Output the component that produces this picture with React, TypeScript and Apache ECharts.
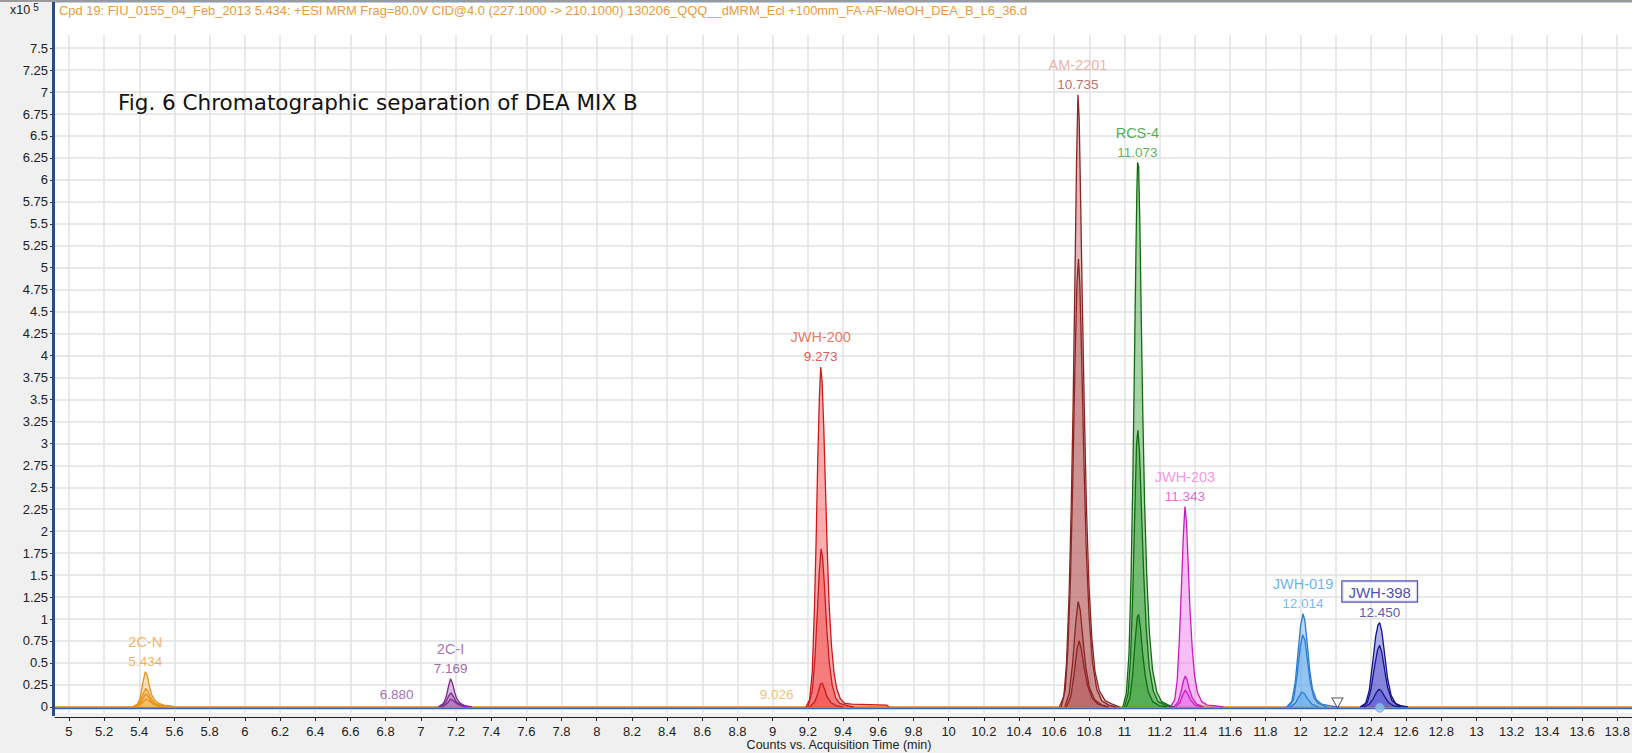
import React, { useEffect, useRef } from 'react';
import * as echarts from 'echarts';

const xTicks = [5, 5.2, 5.4, 5.6, 5.8, 6, 6.2, 6.4, 6.6, 6.8, 7, 7.2, 7.4, 7.6, 7.8, 8, 8.2, 8.4, 8.6, 8.8, 9, 9.2, 9.4, 9.6, 9.8, 10, 10.2, 10.4, 10.6, 10.8, 11, 11.2, 11.4, 11.6, 11.8, 12, 12.2, 12.4, 12.6, 12.8, 13, 13.2, 13.4, 13.6, 13.8];
const yTicks = [0, 0.25, 0.5, 0.75, 1, 1.25, 1.5, 1.75, 2, 2.25, 2.5, 2.75, 3, 3.25, 3.5, 3.75, 4, 4.25, 4.5, 4.75, 5, 5.25, 5.5, 5.75, 6, 6.25, 6.5, 6.75, 7, 7.25, 7.5];

const peakNames = ['2C-N', '2C-I', 'JWH-200', 'AM-2201', 'RCS-4', 'JWH-203', 'JWH-019', 'JWH-398'];
const peakRT = [5.434, 7.169, 9.273, 10.735, 11.073, 11.343, 12.014, 12.45];
const peakHeights = [0.40, 0.32, 3.87, 6.97, 6.20, 2.28, 1.06, 0.96];

const trace2CN = [
  [[5.36, 0], [5.39, 0.03], [5.405, 0.1], [5.42, 0.27], [5.434, 0.4], [5.445, 0.36], [5.455, 0.26], [5.47, 0.14], [5.49, 0.07], [5.51, 0.04], [5.54, 0.02], [5.58, 0.01], [5.6, 0]],
  [[5.37, 0], [5.4, 0.04], [5.42, 0.14], [5.436, 0.21], [5.45, 0.17], [5.47, 0.09], [5.49, 0.04], [5.53, 0.01], [5.57, 0]],
  [[5.38, 0], [5.41, 0.05], [5.425, 0.11], [5.437, 0.15], [5.45, 0.12], [5.47, 0.06], [5.5, 0.02], [5.55, 0]],
  [[5.39, 0], [5.415, 0.04], [5.438, 0.09], [5.455, 0.07], [5.48, 0.03], [5.52, 0]],
];
const trace2CI = [
  [[7.1, 0], [7.13, 0.04], [7.145, 0.12], [7.158, 0.24], [7.169, 0.32], [7.18, 0.27], [7.192, 0.17], [7.205, 0.09], [7.225, 0.04], [7.25, 0.015], [7.29, 0]],
  [[7.11, 0], [7.14, 0.05], [7.16, 0.13], [7.172, 0.16], [7.185, 0.12], [7.2, 0.06], [7.23, 0.02], [7.27, 0]],
  [[7.12, 0], [7.15, 0.04], [7.17, 0.09], [7.185, 0.07], [7.21, 0.03], [7.25, 0]],
];
const traceJWH200 = [
  [[9.19, 0], [9.21, 0.08], [9.225, 0.4], [9.237, 1.1], [9.247, 1.9], [9.256, 2.8], [9.265, 3.5], [9.273, 3.87], [9.281, 3.7], [9.29, 3.2], [9.3, 2.5], [9.31, 1.8], [9.321, 1.15], [9.334, 0.7], [9.349, 0.38], [9.365, 0.2], [9.385, 0.09], [9.41, 0.04], [9.45, 0.03], [9.55, 0.025], [9.65, 0.02], [9.66, 0]],
  [[9.2, 0], [9.225, 0.18], [9.24, 0.55], [9.253, 1.05], [9.265, 1.55], [9.275, 1.8], [9.284, 1.7], [9.295, 1.35], [9.307, 0.9], [9.322, 0.5], [9.338, 0.25], [9.358, 0.1], [9.38, 0.04], [9.43, 0.01], [9.46, 0]],
  [[9.21, 0], [9.24, 0.06], [9.258, 0.16], [9.272, 0.26], [9.282, 0.27], [9.295, 0.2], [9.31, 0.11], [9.33, 0.05], [9.36, 0.015], [9.4, 0]],
];
const traceAM2201 = [
  [[10.63, 0], [10.655, 0.12], [10.67, 0.5], [10.685, 1.3], [10.697, 2.3], [10.708, 3.5], [10.718, 4.9], [10.727, 6.2], [10.735, 6.97], [10.742, 6.7], [10.75, 5.8], [10.76, 4.6], [10.771, 3.4], [10.783, 2.3], [10.797, 1.4], [10.814, 0.78], [10.832, 0.4], [10.857, 0.18], [10.89, 0.07], [10.93, 0.03], [10.97, 0]],
  [[10.64, 0], [10.663, 0.2], [10.678, 0.65], [10.693, 1.5], [10.706, 2.6], [10.718, 3.9], [10.729, 4.8], [10.738, 5.1], [10.746, 4.8], [10.757, 3.9], [10.769, 2.8], [10.782, 1.8], [10.798, 1.05], [10.818, 0.5], [10.842, 0.2], [10.87, 0.07], [10.91, 0.02], [10.95, 0]],
  [[10.66, 0], [10.685, 0.15], [10.705, 0.5], [10.722, 0.95], [10.736, 1.2], [10.748, 1.1], [10.762, 0.8], [10.78, 0.45], [10.8, 0.22], [10.83, 0.08], [10.87, 0.02], [10.91, 0]],
  [[10.67, 0], [10.695, 0.12], [10.715, 0.4], [10.73, 0.66], [10.742, 0.75], [10.755, 0.65], [10.77, 0.45], [10.79, 0.24], [10.815, 0.1], [10.85, 0.03], [10.9, 0]],
];
const traceRCS4 = [
  [[10.99, 0], [11.01, 0.15], [11.025, 0.6], [11.037, 1.5], [11.047, 2.6], [11.056, 3.9], [11.064, 5.1], [11.07, 5.9], [11.074, 6.2], [11.08, 6.15], [11.087, 5.5], [11.095, 4.4], [11.104, 3.3], [11.114, 2.3], [11.126, 1.5], [11.141, 0.85], [11.159, 0.42], [11.183, 0.17], [11.21, 0.06], [11.25, 0.02], [11.28, 0]],
  [[11.0, 0], [11.02, 0.15], [11.034, 0.55], [11.046, 1.25], [11.058, 2.2], [11.068, 3.0], [11.076, 3.15], [11.085, 2.9], [11.096, 2.25], [11.109, 1.5], [11.123, 0.9], [11.14, 0.45], [11.163, 0.18], [11.19, 0.06], [11.23, 0.02], [11.26, 0]],
  [[11.01, 0], [11.03, 0.1], [11.045, 0.35], [11.06, 0.75], [11.072, 1.02], [11.08, 1.05], [11.09, 0.9], [11.102, 0.62], [11.118, 0.35], [11.135, 0.17], [11.16, 0.06], [11.2, 0.01], [11.24, 0]],
];
const traceJWH203 = [
  [[11.26, 0], [11.285, 0.08], [11.299, 0.3], [11.311, 0.75], [11.323, 1.35], [11.334, 1.95], [11.343, 2.28], [11.352, 2.1], [11.362, 1.6], [11.372, 1.1], [11.385, 0.65], [11.398, 0.35], [11.415, 0.16], [11.438, 0.06], [11.47, 0.02], [11.52, 0.01], [11.56, 0]],
  [[11.28, 0], [11.305, 0.06], [11.322, 0.18], [11.335, 0.3], [11.345, 0.35], [11.355, 0.31], [11.368, 0.2], [11.385, 0.1], [11.41, 0.03], [11.45, 0]],
  [[11.29, 0], [11.315, 0.05], [11.332, 0.14], [11.345, 0.19], [11.358, 0.15], [11.375, 0.08], [11.4, 0.02], [11.44, 0]],
];
const traceJWH019 = [
  [[11.92, 0], [11.95, 0.06], [11.97, 0.28], [11.985, 0.6], [12.0, 0.92], [12.014, 1.06], [12.025, 0.98], [12.038, 0.72], [12.052, 0.42], [12.068, 0.2], [12.09, 0.08], [12.12, 0.03], [12.17, 0.01], [12.21, 0]],
  [[11.93, 0], [11.96, 0.08], [11.98, 0.35], [11.998, 0.68], [12.012, 0.82], [12.025, 0.76], [12.04, 0.52], [12.055, 0.28], [12.075, 0.11], [12.1, 0.04], [12.15, 0]],
  [[11.94, 0], [11.97, 0.04], [11.99, 0.11], [12.008, 0.17], [12.022, 0.15], [12.04, 0.09], [12.065, 0.03], [12.1, 0]],
];
const traceJWH398 = [
  [[12.34, 0], [12.37, 0.04], [12.39, 0.18], [12.41, 0.5], [12.427, 0.8], [12.44, 0.93], [12.45, 0.96], [12.462, 0.86], [12.478, 0.6], [12.495, 0.32], [12.515, 0.13], [12.54, 0.04], [12.575, 0.01], [12.61, 0]],
  [[12.35, 0], [12.38, 0.05], [12.4, 0.2], [12.42, 0.45], [12.438, 0.65], [12.45, 0.7], [12.462, 0.62], [12.478, 0.42], [12.495, 0.22], [12.52, 0.07], [12.55, 0.02], [12.59, 0]],
  [[12.36, 0], [12.39, 0.03], [12.41, 0.08], [12.43, 0.16], [12.445, 0.2], [12.46, 0.18], [12.48, 0.11], [12.5, 0.05], [12.53, 0.01], [12.57, 0]],
];

const compoundTraces = [trace2CN, trace2CI, traceJWH200, traceAM2201, traceRCS4, traceJWH203, traceJWH019, traceJWH398];
const lineColors = ['#e8901c', '#7a2a8c', '#cc1a1a', '#8c2424', '#116c11', '#c81cc0', '#2a7cd0', '#14148c'];
const fillColors = ['#f7b455', '#a45cb8', '#f03c3c', '#b45a5a', '#2e9a2e', '#ec64ec', '#5aa8ee', '#4848cc'];
const nameColors = ['#f0a040', '#9050b0', '#e05a3a', '#e8a090', '#239a23', '#f07ce0', '#3f9ff0', '#2020a0'];
const rtColors = ['#f0a040', '#8040a0', '#e03030', '#b04848', '#33a033', '#e040d0', '#50a8f0', '#3030a0'];

const minorLabelX = [6.863, 9.022];
const minorLabelY = [0.135, 0.135];
const minorLabelText = ['6.880', '9.026'];
const minorLabelColors = ['#8a48a8', '#f0b050'];

const xAxisTitle = 'Counts vs. Acquisition Time (min)';
const xMin = 4.921;
const xMax = 13.884;
const FONT = '"Liberation Sans", Arial, sans-serif';

export default function App() {
  const ref = useRef<HTMLDivElement>(null);
  useEffect(() => {
    if (!ref.current) return;
    const chart = echarts.init(ref.current, null, { renderer: 'svg' });

    const series: any[] = [];
    series.push({
      type: 'line', xAxisIndex: 0, yAxisIndex: 0, data: [[xMin, 0], [xMax, 0]],
      symbol: 'none', lineStyle: { color: '#e8a648', width: 1.5 }, silent: true, z: 1,
    });
    compoundTraces.forEach((traces, ci) => {
      traces.forEach((tr, ti) => {
        series.push({
          type: 'line', xAxisIndex: 0, yAxisIndex: 0, data: tr, symbol: 'none', smooth: false,
          lineStyle: { color: lineColors[ci], width: 1.3 },
          areaStyle: { color: fillColors[ci], opacity: 0.42 },
          silent: true, z: 2 + ti,
        });
      });
    });
    series.push({
      type: 'scatter', xAxisIndex: 0, yAxisIndex: 0, symbolSize: 0, z: 10, silent: true,
      data: peakRT.map((rt, i) => {
        const boxed = peakNames[i] === 'JWH-398';
        return {
          value: [rt, peakHeights[i]],
          label: {
            show: true, position: 'top', distance: 1, align: 'center',
            formatter: `{n|${peakNames[i]}}\n{v|${rt.toFixed(3)}}`,
            rich: {
              n: boxed
                ? { color: nameColors[i], fontSize: 15, fontFamily: FONT, lineHeight: 24, borderColor: '#2828a8', borderWidth: 1.2, padding: [3, 6, 2, 6], backgroundColor: '#fff' }
                : { color: nameColors[i], fontSize: 14.5, fontFamily: FONT, lineHeight: 21 },
              v: { color: rtColors[i], fontSize: 13.5, fontFamily: FONT, lineHeight: 18 },
            },
          },
        };
      }),
    });
    series.push({
      type: 'scatter', xAxisIndex: 0, yAxisIndex: 0, symbolSize: 0, z: 10, silent: true,
      data: minorLabelX.map((x, i) => ({
        value: [x, minorLabelY[i]],
        label: { show: true, position: 'inside', formatter: minorLabelText[i], color: minorLabelColors[i], fontSize: 13.5, fontFamily: FONT },
      })),
    });
    series.push({
      type: 'scatter', xAxisIndex: 0, yAxisIndex: 0, z: 11, silent: true,
      data: [{ value: [12.21, 0.045], symbol: 'triangle', symbolRotate: 180, symbolSize: [11, 10], itemStyle: { color: '#fff', borderColor: '#333', borderWidth: 1 } },
             { value: [12.45, -0.01], symbol: 'circle', symbolSize: 9, itemStyle: { color: '#8ec4f0', borderColor: '#6aa8e0', borderWidth: 1 } }],
    });

    const option: any = {
      animation: false,
      backgroundColor: '#f0f0f0',
      grid: { left: 55, right: 0, top: 35, bottom: 40, show: true, backgroundColor: '#ffffff', borderWidth: 0, containLabel: false, outerBoundsMode: 'none' },
      xAxis: [
        {
          type: 'value', min: xMin, max: xMax, position: 'bottom',
          axisLine: { show: true, lineStyle: { color: '#3a66b8', width: 3 } },
          axisTick: { show: false, customValues: xTicks },
          axisLabel: { show: false, customValues: xTicks },
          splitLine: { show: true, lineStyle: { color: '#e2e2e2', width: 1.5 } },
        },
        {
          type: 'value', min: xMin, max: xMax, position: 'bottom', offset: 4,
          axisLine: { show: true, lineStyle: { color: '#222', width: 1.2 } },
          axisTick: { show: true, customValues: xTicks, length: 4, lineStyle: { color: '#222' } },
          axisLabel: { show: true, customValues: xTicks, margin: 8, color: '#222', fontSize: 13, fontFamily: FONT, formatter: (v: number) => String(Math.round(v * 10) / 10) },
          splitLine: { show: false },
        },
      ],
      yAxis: {
        type: 'value', min: -0.07, max: 7.65,
        axisLine: { show: false },
        axisTick: { show: true, customValues: yTicks, length: 5, lineStyle: { color: '#333' } },
        axisLabel: { show: true, customValues: yTicks, margin: 7, color: '#222', fontSize: 13, fontFamily: FONT, formatter: (v: number) => String(Math.round(v * 100) / 100) },
        splitLine: { show: true, lineStyle: { color: '#e2e2e2', width: 1.5 } },
      },
      graphic: { elements: [
        { type: 'rect', shape: { x: 55, y: 2, width: 1577, height: 33 }, style: { fill: '#ffffff' }, silent: true },
        { type: 'rect', shape: { x: 0, y: 0, width: 1632, height: 2 }, style: { fill: '#9a9a9a' }, silent: true },
        { type: 'rect', shape: { x: 55, y: 2, width: 1577, height: 1 }, style: { fill: '#b9cde9' }, silent: true },
        { type: 'rect', shape: { x: 52, y: 2, width: 3, height: 714 }, style: { fill: '#2b4a8a' }, silent: true, z: 50 },
        { type: 'rect', shape: { x: 55, y: 709, width: 1577, height: 1 }, style: { fill: '#c8d6ee' }, silent: true },
        {
          type: 'text', x: 10, y: 10, silent: true, z: 100,
          style: { text: 'x10{s|5}', fill: '#222', font: `12.5px ${FONT}`, verticalAlign: 'middle', rich: { s: { fontSize: 10, verticalAlign: 'top', padding: [0, 0, 6, 3], fill: '#222' } } },
        },
        {
          type: 'text', x: 59, y: 10, silent: true, z: 100,
          style: { text: 'Cpd 19: FIU_0155_04_Feb_2013 5.434: +ESI MRM Frag=80.0V CID@4.0 (227.1000 -> 210.1000) 130206_QQQ__dMRM_Ecl +100mm_FA-AF-MeOH_DEA_B_L6_36.d', fill: '#ea9a3c', font: `12.9px ${FONT}`, verticalAlign: 'middle' },
        },
        {
          type: 'text', x: 118, y: 102, silent: true, z: 100,
          style: { text: 'Fig. 6 Chromatographic separation of DEA MIX B', fill: '#111', font: `21.5px "DejaVu Sans", sans-serif`, verticalAlign: 'middle' },
        },
        {
          type: 'text', x: 839, y: 745, silent: true, z: 100,
          style: { text: xAxisTitle, fill: '#222', font: `12.5px ${FONT}`, align: 'center', verticalAlign: 'middle' },
        },
      ] },
      series,
    };
    chart.setOption(option);
    return () => chart.dispose();
  }, []);
  return <div ref={ref} style={{ position: 'absolute', left: 0, top: 0, width: 1632, height: 753 }} />;
}
